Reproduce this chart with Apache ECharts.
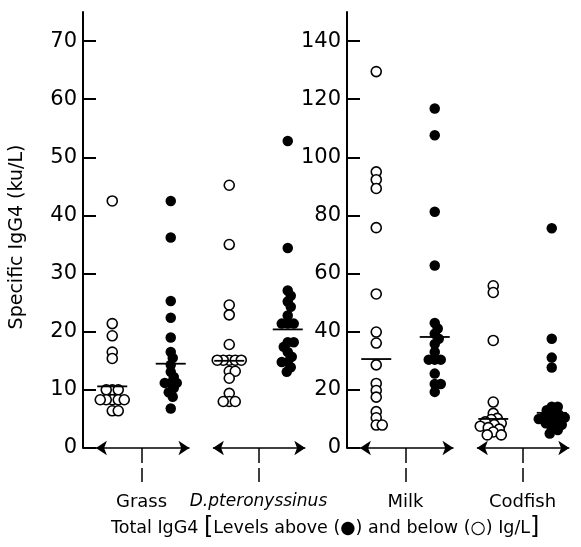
<!DOCTYPE html>
<html>
<head>
<meta charset="utf-8">
<script src="https://cdn.jsdelivr.net/npm/echarts@6/dist/echarts.min.js"></script>
<style>
  html, body { margin: 0; background: #fff; }
  #main { width: 581px; height: 547px; }
</style>
</head>
<body>
<div id="main"></div>
<script>
const categories = ['Grass', 'D.pteronyssinus', 'Milk', 'Codfish'];
// open = total IgG4 below 1 g/L, filled = above
const grassBelow = [42.5, 21.4, 19.3, 16.5, 15.4, 10.0, 10.0, 10.0, 8.3, 8.3, 8.3, 8.3, 8.3, 6.4, 6.4];
const grassAbove = [42.5, 36.2, 25.3, 22.4, 19.0, 16.5, 15.5, 14.3, 13.1, 12.2, 11.2, 11.2, 11.2, 10.3, 9.6, 8.8, 6.8];
const dpterBelow = [45.2, 35.0, 24.6, 22.9, 17.8, 15.1, 15.1, 15.1, 15.1, 15.1, 13.2, 13.2, 12.0, 9.4, 8.0, 8.0, 8.0];
const dpterAbove = [52.8, 34.4, 27.1, 26.2, 25.2, 24.3, 22.8, 21.4, 21.4, 21.4, 18.2, 18.2, 17.4, 16.5, 15.7, 14.8, 14.8, 13.9, 13.1];
const milkBelow = [129.5, 95.0, 92.3, 89.3, 75.8, 53.0, 39.9, 36.1, 28.6, 22.2, 19.8, 17.5, 12.5, 10.4, 7.9, 7.9];
const milkAbove = [116.8, 107.6, 81.3, 62.8, 43.0, 41.1, 39.3, 37.6, 35.8, 33.0, 30.4, 30.4, 30.4, 25.6, 22.0, 22.0, 19.3];
const codBelow = [55.8, 53.5, 37.0, 15.8, 11.9, 10.2, 9.8, 9.0, 8.5, 8.0, 7.5, 7.0, 6.5, 5.5, 4.5, 4.5];
const codAbove = [75.6, 37.6, 31.1, 27.7, 14.2, 14.2, 13.0, 12.0, 11.5, 11.0, 10.5, 10.0, 10.0, 9.2, 8.5, 8.0, 7.0, 6.2, 5.0];
const medianBelow = [10.6, 15.0, 30.6, 10.0];
const medianAbove = [14.5, 20.4, 38.2, 12.1];

const leftMax = 75, leftStep = 10;
const rightMax = 150, rightStep = 20;

const FONT = 'DejaVu Sans';
const GRID_H = 436, GRID_W = 234, X_MAX = 4;

// spread tied values sideways so the dots sit next to each other
function swarm(values, xc, yMax) {
  const ky = GRID_H / yMax, kx = GRID_W / X_MAX;
  const placed = [];
  return values.slice().sort((a, b) => b - a).map(v => {
    const py = v * ky;
    let dx = 0;
    for (let k = 0; k < 80; k++) {
      const cand = (k % 2 ? 1 : -1) * Math.ceil(k / 2);
      if (placed.every(p => Math.hypot(p[0] - cand, p[1] - py) >= 6)) { dx = cand; break; }
    }
    placed.push([dx, py]);
    return [xc + dx / kx, v];
  });
}

const groups = [
  { below: grassBelow, above: grassAbove, c: 1, panel: 0 },
  { below: dpterBelow, above: dpterAbove, c: 3, panel: 0 },
  { below: milkBelow, above: milkAbove, c: 1, panel: 1 },
  { below: codBelow, above: codAbove, c: 3, panel: 1 }
];

const chart = echarts.init(document.getElementById('main'));

const series = [];
groups.forEach((g, i) => {
  const yMax = g.panel === 0 ? leftMax : rightMax;
  const ax = { xAxisIndex: g.panel * 2, yAxisIndex: g.panel };
  series.push({
    type: 'scatter', ...ax, symbolSize: 10, z: 2,
    itemStyle: { color: '#fff', borderColor: '#000', borderWidth: 1.6, opacity: 1 },
    data: swarm(g.below, g.c - 0.5, yMax)
  });
  series.push({
    type: 'scatter', ...ax, symbolSize: 10.5, z: 2,
    itemStyle: { color: '#000', opacity: 1 },
    data: swarm(g.above, g.c + 0.5, yMax)
  });
  series.push({
    type: 'scatter', ...ax, symbol: 'rect', symbolSize: [30, 1.8], z: 3,
    itemStyle: { color: '#000', opacity: 1 },
    data: [[g.c - 0.5, medianBelow[i]], [g.c + 0.5, medianAbove[i]]]
  });
});

// double-headed arrows along the baseline of each panel
[0, 1].forEach(p => {
  series.push({
    type: 'scatter', xAxisIndex: p * 2, yAxisIndex: p, data: [],
    markLine: {
      silent: true, animation: false,
      symbol: ['arrow', 'arrow'], symbolSize: 11,
      label: { show: false },
      lineStyle: { color: '#000', width: 1.5, type: 'solid' },
      data: [
        [{ coord: [0.22, 0] }, { coord: [1.82, 0] }],
        [{ coord: [2.22, 0] }, { coord: [3.8, 0] }]
      ]
    }
  });
});

const catLabel = (panel) => (v) => {
  const name = categories[panel * 2 + (v === 1 ? 0 : 1)];
  return name === 'D.pteronyssinus' ? '{it|' + name + '}' : name;
};

const xAxes = [];
[0, 1].forEach(p => {
  xAxes.push({
    type: 'value', gridIndex: p, min: 0, max: X_MAX,
    axisLine: { show: false }, splitLine: { show: false },
    axisTick: { show: true, customValues: [1, 3], length: 15, lineStyle: { color: '#000', width: 1.5 } },
    axisLabel: { show: false }
  });
  xAxes.push({
    type: 'value', gridIndex: p, min: 0, max: X_MAX, position: 'bottom', offset: 20,
    axisLine: { show: false }, splitLine: { show: false },
    axisTick: { show: true, customValues: [1, 3], length: 14, lineStyle: { color: '#000', width: 1.5 } },
    axisLabel: {
      customValues: [1, 3], margin: 25, color: '#000', fontFamily: FONT, fontSize: 18,
      formatter: catLabel(p),
      rich: { it: { fontStyle: 'italic', fontFamily: FONT, fontSize: 17, color: '#000' } }
    }
  });
});

const yAxis = (gridIndex, max, step, name) => ({
  type: 'value', gridIndex, min: 0, max, interval: step,
  name, nameLocation: 'middle', nameGap: 56,
  nameTextStyle: { color: '#000', fontFamily: FONT, fontSize: 19, padding: [0, 14, 0, 0] },
  axisLine: { show: true, lineStyle: { color: '#000', width: 2 } },
  axisTick: { show: true, inside: true, length: 13, lineStyle: { color: '#000', width: 2 } },
  axisLabel: { color: '#000', fontFamily: FONT, fontSize: 21, margin: 6, showMaxLabel: false },
  splitLine: { show: false }
});

const option = {
  animation: false,
  backgroundColor: '#fff',
  grid: [
    { left: 83, top: 12, width: GRID_W, height: GRID_H },
    { left: 347, top: 12, width: GRID_W, height: GRID_H }
  ],
  title: {
    text: 'Total IgG4 {br|[}Levels above (●) and below (○) Ig/L{br|]}',
    left: 106, top: 511,
    textStyle: {
      fontFamily: FONT, fontSize: 17.5, fontWeight: 'normal', color: '#000',
      rich: { br: { fontFamily: FONT, fontSize: 24, color: '#000' } }
    }
  },
  xAxis: xAxes,
  yAxis: [
    yAxis(0, leftMax, leftStep, 'Specific IgG4 (ku/L)'),
    yAxis(1, rightMax, rightStep, '')
  ],
  series
};

chart.setOption(option);
</script>
</body>
</html>
